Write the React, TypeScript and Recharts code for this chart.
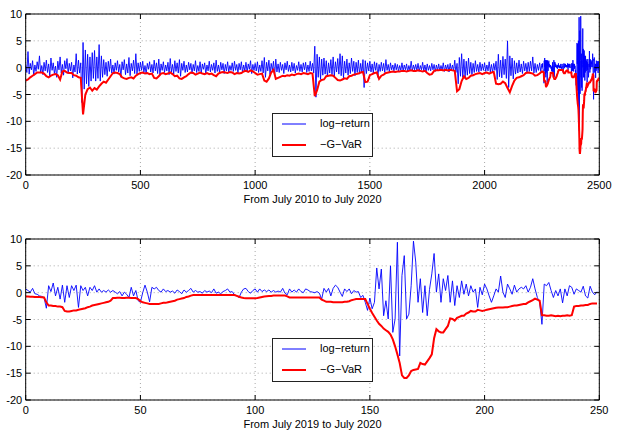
import { CartesianGrid, Line, LineChart, ReferenceLine, XAxis, YAxis } from "recharts"

// log-return, July 2010 - June 2019, one value every 5th trading day
const logReturn2010 = [
  0.6, -0.9, 3.0, -1.2, 0.8, -0.4, 1.3, -1.5, 0.5, -0.7, 1.1, -0.3, 2.2, -1.0, 0.4, -1.3, 1.0, -0.6, 1.4, -0.9,
  0.7, -1.6, 1.8, -0.5, 0.9, -1.1, 0.3, -1.8, 1.2, -0.4, 2.0, -1.0, 0.6, -1.4, 1.3, -0.2, 1.7, -1.1, 0.8, -0.6,
  1.0, -1.9, 0.5, -0.8, 2.6, -1.2, 1.4, -1.0, 0.9, -6.5, 4.7, -4.0, 3.3, -3.0, 2.5, -3.5, 2.0, -2.5, 2.8, -2.0,
  3.2, -2.5, 2.0, -2.0, 4.3, -2.5, 2.2, -1.8, 1.5, -1.3, 1.0, -1.6, 1.2, -0.7, 1.6, -1.0, 0.5, -1.2, 0.9, -0.5,
  1.3, -0.8, 0.6, -1.8, 1.1, -0.4, 1.5, -1.3, 0.7, -1.0, 1.9, -1.5, 0.8, -0.6, 1.4, -1.1, 2.6, -1.2, 0.9, -0.7,
  1.0, -0.5, 1.2, -0.9, 0.4, -1.2, 0.8, -0.3, 1.1, -0.8, 0.6, -1.0, 1.4, -0.6, 0.9, -1.1, 1.6, -1.4, 0.7, -0.5,
  1.1, -0.9, 0.5, -0.6, 1.0, -1.3, 1.7, -0.8, 0.6, -1.2, 1.3, -0.7, 0.9, -1.0, 1.5, -1.6, 0.8, -0.5, 1.2, -0.9,
  0.5, -0.8, 1.0, -0.4, 0.8, -1.1, 0.6, -0.6, 1.3, -0.9, 0.4, -0.7, 1.1, -1.0, 0.7, -0.3, 0.9, -1.2, 0.5, -0.6,
  1.2, -0.8, 0.6, -0.5, 0.9, -1.0, 1.4, -0.7, 0.5, -0.9, 1.0, -0.4, 0.8, -1.1, 0.6, -0.6, 1.1, -0.8, 0.4, -0.5,
  0.9, -0.7, 1.2, -0.5, 0.6, -1.0, 0.8, -0.4, 1.1, -0.9, 0.5, -0.6, 1.0, -0.8, 0.7, -0.3, 1.3, -1.1, 0.6, -0.5,
  0.8, -0.6, 1.1, -0.9, 0.5, -0.7, 1.3, -1.0, 1.9, -1.8, 1.0, -0.6, 1.4, -1.3, 0.8, -0.5, 1.2, -1.5, 1.6, -0.8,
  0.7, -0.9, 1.0, -0.5, 0.6, -1.1, 0.9, -0.4, 1.2, -0.7, 0.5, -0.8, 1.0, -0.6, 0.8, -1.0, 0.4, -0.5, 1.1, -0.7,
  0.6, -0.8, 0.9, -0.4, 1.0, -0.9, 0.5, -0.7, 1.2, -0.6, 0.8, -1.0, 4.0, -5.5, 2.5, -1.8, 2.0, -2.2, 1.6, -1.4,
  1.8, -1.2, 1.3, -1.7, 0.9, -1.0, 1.5, -1.3, 2.0, -1.6, 1.1, -0.8, 1.7, -1.2, 2.6, -1.5, 2.2, -1.9, 1.2, -1.0,
  1.6, -1.4, 0.9, -1.1, 1.8, -0.7, 1.2, -1.5, 1.0, -0.9, 1.4, -1.2, 0.8, -1.0, 1.5, -3.7, 1.3, -1.1, 0.9, -0.6,
  1.2, -0.8, 0.7, -1.0, 1.1, -0.5, 0.9, -1.8, 0.6, -0.7, 1.0, -0.6, 0.8, -0.9, 1.5, -0.5, 0.6, -0.8, 0.9, -0.4,
  0.5, -0.6, 0.8, -0.4, 0.6, -0.7, 0.4, -0.5, 0.9, -0.6, 0.5, -0.4, 0.7, -0.8, 0.4, -0.5, 1.2, -0.6, 0.5, -0.4,
  0.6, -0.5, 0.8, -0.7, 0.4, -0.4, 1.0, -0.6, 0.5, -0.8, 0.7, -0.5, 0.4, -0.6, 0.8, -0.4, 0.6, -0.7, 0.5, -0.5,
  0.7, -0.6, 0.4, -0.5, 0.9, -0.7, 0.5, -0.4, 0.6, -0.8, 0.8, -0.5, 0.5, -0.6, 1.4, -0.9, 0.8, -3.0, 1.9, -1.6,
  2.6, -1.8, 1.6, -2.0, 1.2, -1.4, 1.8, -1.1, 1.0, -1.3, 0.8, -0.9, 1.3, -0.7, 0.6, -0.8, 1.0, -0.6, 0.7, -0.5,
  0.9, -0.7, 0.5, -0.6, 1.1, -0.8, 0.6, -0.9, 0.8, -0.5, 1.2, -2.2, 2.5, -1.7, 1.4, -1.9, 2.1, -1.3, 1.6, -2.0,
  5.0, -3.7, 2.2, -1.5, 1.8, -2.1, 1.3, -1.2, 0.9, -1.0, 1.4, -0.8, 0.7, -1.1, 1.2, -0.6, 0.8, -0.9, 1.0, -0.7,
  1.2, -0.6, 2.0, -1.0, 0.8, -0.9, 0.6, -0.5, 0.9, -0.7,
]

// -G-VaR, July 2010 - June 2019, one value every 10th trading day
const gVar2010 = [
  -2.4, -2.2, -1.8, -1.5, -1.2, -0.9, -0.9, -0.9, -1.1, -1.6, -1.8, -1.5, -1.3, -1.2, -1.4, -2.2, -0.7, -0.6, -0.9, -1.0,
  -1.0, -1.4, -1.5, -1.8, -1.9, -8.7, -5.0, -4.0, -3.7, -4.3, -3.8, -4.1, -3.5, -3.0, -2.6, -2.8, -2.2, -1.6, -1.0, -0.9,
  -1.0, -1.2, -1.8, -2.0, -2.1, -1.9, -1.8, -2.0, -1.5, -1.2, -1.0, -0.9, -1.1, -1.0, -1.2, -1.1, -1.9, -2.0, -1.6, -1.1,
  -1.0, -1.2, -1.1, -0.9, -1.2, -1.6, -1.5, -2.0, -2.1, -1.8, -1.6, -1.2, -0.9, -1.0, -1.3, -1.1, -0.9, -1.1, -1.2, -1.0,
  -1.2, -1.1, -1.4, -1.6, -1.1, -0.9, -0.8, -0.9, -1.0, -0.8, -0.9, -1.2, -1.0, -1.1, -1.0, -0.7, -0.6, -0.8, -0.5, -0.7,
  -1.0, -1.3, -1.2, -1.1, -2.4, -2.6, -2.0, -0.9, -0.4, -2.1, -1.9, -1.7, -1.5, -1.6, -1.4, -1.5, -1.3, -1.4, -1.2, -1.1,
  -1.2, -1.0, -1.1, -1.2, -1.0, -1.1, -5.3, -4.2, -2.6, -2.3, -2.2, -1.6, -1.5, -1.4, -1.5, -1.9, -2.3, -2.4, -2.2, -2.0,
  -2.1, -1.6, -1.5, -1.3, -1.2, -1.1, -0.9, -0.8, -2.7, -2.6, -1.4, -1.2, -1.0, -0.9, -2.1, -1.5, -1.3, -1.0, -0.9, -0.8,
  -0.7, -0.8, -0.7, -0.7, -0.6, -0.6, -0.7, -0.6, -0.5, -0.6, -0.6, -0.5, -0.6, -0.7, -0.6, -1.0, -1.3, -1.2, -0.6, -0.5,
  -0.5, -0.4, -0.5, -0.4, -0.5, -0.4, -0.5, -0.6, -4.4, -4.0, -2.5, -1.6, -2.1, -1.9, -1.5, -1.4, -1.2, -1.1, -1.0, -1.2,
  -1.0, -0.9, -1.1, -0.9, -0.8, -3.0, -3.1, -3.0, -2.6, -2.9, -3.8, -4.6, -3.4, -2.4, -1.9, -1.8, -1.6, -1.4, -1.0, -0.9,
  -1.0, -1.1, -1.5, -1.4, -1.1,
]

// July 2019 - July 2020, daily
const logReturn2019 = [
  0.7, 0.4, 0.1, 0.8, -0.2, -0.3, -0.6, -0.7, -0.9, -2.9,
  1.3, 0.2, 1.8, -0.6, 1.0, -1.2, 1.4, -1.8, 1.3, -0.9,
  1.3, 0.4, 1.4, -2.75, 1.3, 0.4, 1.0, -0.6, 1.0, 0.4,
  1.3, 0.1, 0.7, 0.1, 0.4, 0.1, 0.5, 0.1, 0.4, 0.1,
  -0.2, 0.2, -0.6, 0.1, -0.3, -0.9, 1.0, -0.6, 0.4, -1.5,
  -1.8, 0.0, 1.4, 0.1, -1.7, 1.0, 0.7, 1.0, 0.4, 0.1,
  0.7, 0.2, 0.4, 0.1, 0.3, -0.1, 0.5, 0.2, -0.2, 0.5,
  0.1, 0.4, 0.8, 0.1, 0.4, 0.1, 0.2, -0.1, 0.4, 0.1,
  0.3, 0.0, 0.7, -0.1, 0.1, -0.2, 0.2, 0.4, 0.7, 0.1,
  0.2, -0.4, -0.6, -0.9, 0.1, 0.7, 0.8, 0.2, -0.1, 0.4,
  0.7, 0.1, 0.7, 0.2, 0.5, 0.2, 0.5, 0.1, 0.4, 0.1,
  0.3, 0.1, 0.8, -0.1, -0.4, 0.7, 0.1, 0.5, 0.1, 0.7,
  0.2, 0.0, 0.7, 0.5, 0.2, 0.1, 0.0, 0.2, -0.1, -1.2,
  0.8, 0.1, 0.8, -0.6, 0.8, 1.4, 1.0, 0.1, -0.7, 0.7,
  0.2, 0.7, -0.2, 0.4, 0.1, 0.2, -0.9, -0.5, -1.8, -3.3,
  -1.0, -3.0, -1.8, 4.6, 0.7, 4.4, -4.3, -1.5, -4.9, 5.0,
  -7.4, -4.9, 9.4, -11.8, 3.2, 6.9, -4.9, -4.0, 1.3, 9.6,
  5.7, -1.8, 2.6, -3.7, 1.3, -4.3, 0.6, 3.5, 7.3, 0.1,
  3.5, -1.8, 2.6, 0.4, 3.2, -1.8, 2.2, -2.4, 1.3, -0.9,
  2.2, -0.3, 1.6, -0.6, 1.3, 0.1, 0.7, -2.75, 1.0, -0.4,
  1.6, 0.7, -0.6, -1.8, -0.6, 0.7, 0.1, 3.1, 0.1, -0.9,
  1.6, 0.7, -0.3, 1.4, 0.1, 0.7, 1.0, 0.7, 1.3, 0.1,
  1.0, 2.6, 0.7, -0.9, -1.8, -5.9, 1.6, 1.3, 1.9, 0.4,
  -0.9, 0.4, -0.6, 0.7, -1.9, 0.7, -0.6, 1.3, 1.0, -0.3,
  0.7, 0.4, 0.1, 1.2, -0.6, -1.0, 1.2, 0.1, -0.4, 0.2,
]

const gVar2019 = [
  -0.7, -0.7, -0.75, -0.75, -0.8, -0.8, -0.8, -0.85, -0.9, -1.8,
  -2.4, -2.4, -2.5, -2.5, -2.6, -2.6, -2.7, -3.4, -3.5, -3.5,
  -3.4, -3.3, -3.3, -3.2, -3.1, -3.0, -2.9, -2.7, -2.6, -2.4,
  -2.3, -2.2, -2.1, -2.0, -1.9, -1.8, -1.7, -1.5, -1.0, -1.0,
  -0.95, -0.95, -1.0, -1.0, -0.95, -0.95, -1.0, -1.0, -1.0, -1.2,
  -1.6, -1.8, -1.9, -2.0, -2.1, -2.1, -2.1, -2.1, -2.1, -2.0,
  -1.9, -1.9, -1.8, -1.7, -1.6, -1.5, -1.3, -1.2, -1.1, -1.0,
  -0.8, -0.7, -0.55, -0.45, -0.45, -0.45, -0.45, -0.45, -0.45, -0.45,
  -0.45, -0.45, -0.45, -0.45, -0.45, -0.45, -0.45, -0.45, -0.45, -0.45,
  -0.45, -0.45, -0.6, -0.75, -0.9, -1.0, -1.05, -1.05, -1.05, -1.05,
  -1.05, -1.0, -0.9, -0.8, -0.7, -0.65, -0.6, -0.6, -0.55, -0.55,
  -0.55, -0.55, -0.55, -0.55, -0.7, -0.9, -0.9, -0.9, -0.9, -0.9,
  -0.9, -0.9, -0.9, -0.9, -0.9, -0.9, -0.9, -0.9, -0.9, -1.3,
  -1.5, -1.7, -1.7, -1.7, -1.8, -1.8, -1.8, -1.8, -1.8, -1.7,
  -1.7, -1.6, -1.4, -1.3, -1.2, -1.2, -1.2, -1.2, -1.2, -2.1,
  -3.0, -3.8, -4.5, -5.2, -5.8, -6.2, -6.7, -7.0, -7.3, -7.8,
  -8.7, -10.0, -11.5, -13.1, -15.4, -15.9, -15.9, -15.4, -14.6, -14.4,
  -14.3, -14.2, -13.1, -13.3, -13.4, -12.8, -12.2, -11.5, -8.5, -6.8,
  -7.2, -7.4, -7.4, -6.8, -6.2, -4.8, -4.9, -5.2, -4.7, -4.5,
  -4.3, -4.3, -3.9, -3.7, -3.4, -3.5, -3.5, -3.2, -3.3, -3.4,
  -3.3, -3.2, -3.1, -3.0, -2.9, -2.8, -2.75, -2.75, -2.75, -2.7,
  -2.7, -2.6, -2.5, -2.4, -2.4, -2.3, -2.2, -2.1, -2.1, -1.8,
  -1.6, -1.4, -1.1, -1.3, -1.5, -4.2, -4.2, -4.3, -4.3, -4.2,
  -4.3, -4.4, -4.3, -4.4, -4.3, -4.3, -4.2, -4.3, -4.2, -2.6,
  -2.5, -2.5, -2.4, -2.4, -2.3, -2.3, -2.1, -2.0, -2.0, -2.0,
]

const tenYearTicks = [0, 500, 1000, 1500, 2000, 2500]
const oneYearTicks = [0, 50, 100, 150, 200, 250]
const valueTicks = [10, 5, 0, -5, -10, -15, -20]

// the last year starts at this trading day of the ten-year window
const recentStart = 2250

type Row = { day: number; value: number }

const tenYearReturn: Row[] = [
  ...logReturn2010.map((value, i) => ({ day: i * 5, value })),
  ...logReturn2019.map((value, i) => ({ day: recentStart + i, value })),
]
const tenYearVar: Row[] = [
  ...gVar2010.map((value, i) => ({ day: i * 10, value })),
  ...gVar2019.map((value, i) => ({ day: recentStart + i, value })),
]
const oneYearReturn: Row[] = logReturn2019.map((value, day) => ({ day, value }))
const oneYearVar: Row[] = gVar2019.map((value, day) => ({ day, value }))

const FONT = '"Liberation Sans", Arial, Helvetica, sans-serif'
const WIDTH = 622
const HEIGHT = 210
const PLOT_TOP = 14
const PLOT_BOTTOM = 175
const PLOT_LEFT = 25.7
const PLOT_RIGHT = 599.3
const TICK = 5

function xTick(props: any) {
  const { x, payload } = props
  return (
    <g>
      <line x1={x} x2={x} y1={PLOT_BOTTOM} y2={PLOT_BOTTOM - TICK} stroke="#000" />
      <line x1={x} x2={x} y1={PLOT_TOP} y2={PLOT_TOP + TICK} stroke="#000" />
      <text
        x={x}
        y={PLOT_BOTTOM + 10}
        dominantBaseline="central"
        fill="#000"
        fontFamily={FONT}
        fontSize={11}
        textAnchor="middle"
      >
        {payload.value}
      </text>
    </g>
  )
}

function yTick(props: any) {
  const { y, payload } = props
  return (
    <g>
      <line x1={PLOT_LEFT} x2={PLOT_LEFT + TICK} y1={y} y2={y} stroke="#000" />
      <line x1={PLOT_RIGHT} x2={PLOT_RIGHT - TICK} y1={y} y2={y} stroke="#000" />
      <text
        x={PLOT_LEFT - 3.5}
        y={y}
        dominantBaseline="central"
        fill="#000"
        fontFamily={FONT}
        fontSize={11}
        textAnchor="end"
      >
        {payload.value}
      </text>
    </g>
  )
}

function LegendBox() {
  const row = (color: string, width: number, label: string) => (
    <div style={{ position: "relative", height: 21 }}>
      <svg
        width={24}
        height={10}
        style={{ position: "absolute", left: 9, top: 5 }}
      >
        <line x1={0} x2={24} y1={5} y2={5} stroke={color} strokeWidth={width} />
      </svg>
      <span style={{ position: "absolute", left: 47, top: 3, whiteSpace: "nowrap" }}>
        {label}
      </span>
    </div>
  )
  return (
    <div
      style={{
        position: "absolute",
        left: 272,
        top: 113,
        width: 99,
        height: 42,
        border: "1px solid #222",
        background: "#fff",
        fontFamily: FONT,
        fontSize: 11,
        lineHeight: "13px",
        color: "#000",
      }}
    >
      {row("#0000ff", 1, "log\u2212return")}
      {row("#ff0000", 2, "\u2212G\u2212VaR")}
    </div>
  )
}

type PanelProps = {
  returns: Row[]
  gvar: Row[]
  xMax: number
  xTicks: number[]
  title: string
  top: number
}

function Panel({ returns, gvar, xMax, xTicks, title, top }: PanelProps) {
  return (
    <div style={{ position: "absolute", left: 0, top, width: WIDTH, height: HEIGHT }}>
      <LineChart
        width={WIDTH}
        height={HEIGHT}
        margin={{ top: PLOT_TOP, right: WIDTH - PLOT_RIGHT, bottom: 0, left: 0.7 }}
      >
        <CartesianGrid stroke="#a8a8a8" strokeDasharray="1 3" />
        <XAxis
          allowDataOverflow
          axisLine={{ stroke: "#000" }}
          dataKey="day"
          domain={[0, xMax]}
          height={HEIGHT - PLOT_BOTTOM}
          interval={0}
          label={{
            value: title,
            position: "insideBottom",
            offset: 7,
            fill: "#000",
            fontSize: 11,
            fontFamily: FONT,
          }}
          tick={xTick}
          tickLine={false}
          ticks={xTicks}
          type="number"
        />
        <YAxis
          allowDataOverflow
          axisLine={{ stroke: "#000" }}
          domain={[-20, 10]}
          interval={0}
          tick={yTick}
          tickLine={false}
          ticks={valueTicks}
          type="number"
          width={25}
        />
        <ReferenceLine y={10} stroke="#000" />
        <ReferenceLine x={xMax} stroke="#000" />
        <Line
          data={returns}
          dataKey="value"
          dot={false}
          isAnimationActive={false}
          stroke="#0000ff"
          strokeWidth={0.9}
          type="linear"
        />
        <Line
          data={gvar}
          dataKey="value"
          dot={false}
          isAnimationActive={false}
          stroke="#ff0000"
          strokeWidth={2}
          type="linear"
        />
      </LineChart>
      <LegendBox />
    </div>
  )
}

export default function App() {
  return (
    <div
      style={{
        position: "absolute",
        left: 0,
        top: 0,
        width: WIDTH,
        height: 438,
        background: "#fff",
      }}
    >
      <Panel
        gvar={tenYearVar}
        returns={tenYearReturn}
        title="From July 2010 to July 2020"
        top={0}
        xMax={2500}
        xTicks={tenYearTicks}
      />
      <Panel
        gvar={oneYearVar}
        returns={oneYearReturn}
        title="From July 2019 to July 2020"
        top={225}
        xMax={250}
        xTicks={oneYearTicks}
      />
    </div>
  )
}
